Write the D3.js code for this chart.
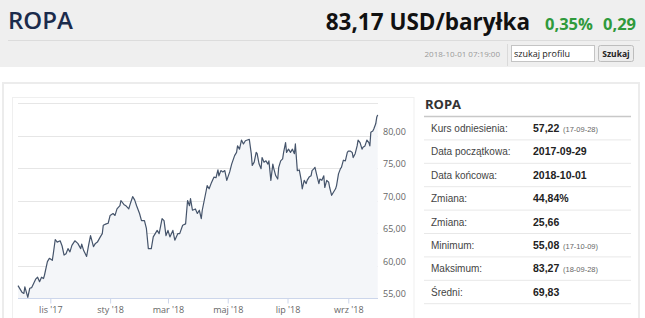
<!DOCTYPE html>
<html lang="pl">
<head>
  <meta charset="utf-8">
  <title>ROPA</title>
  <script src="https://cdn.jsdelivr.net/npm/d3@7/dist/d3.min.js"></script>
  <style>
    html, body { margin: 0; padding: 0; background: #fff; }
    svg text { font-family: "Open Sans", sans-serif; }
    .tab text { font-family: "Liberation Sans", Arial, sans-serif; }
  </style>
</head>
<body>
<svg id="chart" width="645" height="318"></svg>
<script>
"use strict"
// dane
var daty = ["2017-09-29","2017-10-03","2017-10-05","2017-10-06","2017-10-09","2017-10-11","2017-10-13","2017-10-17","2017-10-19","2017-10-21",
  "2017-10-23","2017-10-25","2017-10-26","2017-10-29","2017-10-31","2017-11-03","2017-11-04","2017-11-06","2017-11-08","2017-11-11",
  "2017-11-13","2017-11-15","2017-11-17","2017-11-19","2017-11-21","2017-11-23","2017-11-26","2017-11-29","2017-12-02","2017-12-03",
  "2017-12-05","2017-12-08","2017-12-10","2017-12-12","2017-12-15","2017-12-17","2017-12-19","2017-12-22","2017-12-24","2017-12-25",
  "2017-12-28","2017-12-30","2018-01-01","2018-01-04","2018-01-06","2018-01-08","2018-01-11","2018-01-12","2018-01-15","2018-01-17",
  "2018-01-20","2018-01-22","2018-01-24","2018-01-26","2018-01-28","2018-01-31","2018-02-02","2018-02-05","2018-02-07","2018-02-09",
  "2018-02-12","2018-02-14","2018-02-16","2018-02-18","2018-02-20","2018-02-23","2018-02-25","2018-02-27","2018-03-01","2018-03-03",
  "2018-03-06","2018-03-08","2018-03-11","2018-03-13","2018-03-16","2018-03-19","2018-03-21","2018-03-23","2018-03-24","2018-03-26",
  "2018-03-29","2018-03-31","2018-04-02","2018-04-04","2018-04-05","2018-04-07","2018-04-09","2018-04-10","2018-04-12","2018-04-14",
  "2018-04-17","2018-04-19","2018-04-21","2018-04-22","2018-04-24","2018-04-26","2018-04-28","2018-04-30","2018-05-03","2018-05-05",
  "2018-05-08","2018-05-10","2018-05-11","2018-05-13","2018-05-15","2018-05-17","2018-05-19","2018-05-21","2018-05-23","2018-05-25",
  "2018-05-26","2018-05-28","2018-05-30","2018-05-31","2018-06-02","2018-06-04","2018-06-05","2018-06-07","2018-06-09","2018-06-11",
  "2018-06-12","2018-06-14","2018-06-16","2018-06-17","2018-06-19","2018-06-21","2018-06-22","2018-06-24","2018-06-26","2018-06-27",
  "2018-06-29","2018-06-30","2018-07-02","2018-07-04","2018-07-06","2018-07-08","2018-07-09","2018-07-11","2018-07-13","2018-07-15",
  "2018-07-16","2018-07-18","2018-07-20","2018-07-21","2018-07-23","2018-07-25","2018-07-26","2018-07-28","2018-07-29","2018-07-31",
  "2018-08-02","2018-08-03","2018-08-05","2018-08-07","2018-08-08","2018-08-10","2018-08-12","2018-08-13","2018-08-15","2018-08-17",
  "2018-08-19","2018-08-20","2018-08-22","2018-08-24","2018-08-25","2018-08-27","2018-08-29","2018-08-31","2018-09-01","2018-09-03",
  "2018-09-05","2018-09-06","2018-09-08","2018-09-10","2018-09-11","2018-09-13","2018-09-15","2018-09-16","2018-09-18","2018-09-20",
  "2018-09-22","2018-09-23","2018-09-24","2018-09-26","2018-09-27","2018-09-29","2018-09-30","2018-10-01"];
var kursy = [56.9,55.9,55.7,56.7,55.1,56.5,56.6,57.9,58.2,57.5,
  58.2,58.0,58.5,60.6,61.1,60.8,61.8,64.0,63.6,63.8,
  63.0,61.6,61.8,62.6,62.1,63.1,63.8,63.4,62.6,63.3,
  62.3,61.4,63.1,64.6,62.9,63.4,63.6,64.4,64.9,66.2,
  66.4,66.5,67.7,68.0,67.7,68.7,69.2,70.0,69.4,69.2,
  68.7,69.7,70.6,70.1,69.2,68.0,66.9,66.9,65.7,62.6,
  62.6,64.4,64.9,65.4,64.9,67.2,66.9,64.6,65.4,64.4,
  65.4,63.9,64.9,64.9,66.2,66.4,70.0,69.2,70.3,68.5,
  68.7,68.0,68.5,67.2,68.5,70.0,71.5,72.3,71.8,72.6,
  73.6,73.5,74.7,73.8,74.6,74.4,74.6,73.1,74.4,75.6,
  76.9,77.4,78.4,77.9,79.3,78.7,79.2,79.3,79.4,77.2,
  75.4,75.9,77.4,77.2,75.6,74.9,76.6,75.9,76.1,75.6,
  76.1,73.1,75.6,74.9,73.8,73.3,75.1,76.1,76.4,77.4,
  78.9,77.4,77.9,77.4,77.9,77.2,78.7,74.6,74.7,73.1,
  71.8,73.1,72.6,73.1,73.6,73.8,74.6,74.9,75.1,73.8,
  72.6,73.3,73.1,73.8,72.0,73.1,72.8,72.0,70.8,71.3,
  71.8,72.3,74.1,74.9,75.1,76.2,76.1,77.4,77.6,77.6,
  77.4,76.6,77.2,78.4,79.3,78.9,77.9,78.2,78.4,79.3,
  78.9,78.4,80.5,80.7,81.0,81.8,82.8,83.17];
var tickDaty = ["2017-11-01","2018-01-01","2018-03-01","2018-05-01","2018-07-01","2018-09-01"];
var tickEtykiety = ["lis '17","sty '18","mar '18","maj '18","lip '18","wrz '18"];
var yTicki = [55, 60, 65, 70, 75, 80];
var ySiatka = [55, 60, 65, 70, 75, 80, 85];
// tabela po prawej
var etykiety = ["Kurs odniesienia:","Data początkowa:","Data końcowa:","Zmiana:","Zmiana:","Minimum:","Maksimum:","Średni:"];
var wartosci = ["57,22","2017-09-29","2018-10-01","44,84%","25,66","55,08","83,27","69,83"];
var uwagi = ["(17-09-28)","","","","","(17-10-09)","(18-09-28)",""];

var parse = d3.utcParse("%Y-%m-%d");
var dane = daty.map((d, i) => ({data: parse(d), kurs: kursy[i]}));
var svg = d3.select("#chart");

// --- naglowek ---
svg.append("rect").attr("x", 0).attr("y", 0).attr("width", 645).attr("height", 67).attr("fill", "#efefef");
svg.append("text").attr("x", 8).attr("y", 29).attr("font-size", 24).attr("font-weight", 600)
  .attr("fill", "#1b2b4b").text("ROPA");
var cena = svg.append("text").attr("x", 530).attr("y", 30).attr("text-anchor", "end").attr("font-size", 25)
  .attr("font-weight", 700).attr("fill", "#111").attr("font-family", "DejaVu Sans Condensed, Open Sans, sans-serif")
  .text("83,17 USD/baryłka");
// dopasuj rozmiar, zeby nie najezdzal na zmiane
var fs = 25;
while (cena.node().getComputedTextLength() > 206 && fs > 16) { fs -= 0.5; cena.attr("font-size", fs); }
svg.append("text").attr("x", 545).attr("y", 30).attr("font-size", 16.5).attr("font-weight", 700)
  .attr("fill", "#2f9a3c").text("0,35%");
svg.append("text").attr("x", 603).attr("y", 30).attr("font-size", 16.5).attr("font-weight", 700)
  .attr("fill", "#2f9a3c").text("0,29");
svg.append("line").attr("x1", 8).attr("x2", 640).attr("y1", 40.5).attr("y2", 40.5).attr("stroke", "#dcdcdc");
svg.append("text").attr("x", 500).attr("y", 57).attr("text-anchor", "end").attr("font-size", 8)
  .attr("font-family", "Liberation Sans, Arial").attr("fill", "#999").text("2018-10-01 07:19:00");
svg.append("line").attr("x1", 507.5).attr("x2", 507.5).attr("y1", 44).attr("y2", 66).attr("stroke", "#dadada");
svg.append("rect").attr("x", 511.5).attr("y", 45.5).attr("width", 83).attr("height", 16)
  .attr("fill", "#fff").attr("stroke", "#c4c4c4");
svg.append("text").attr("x", 514).attr("y", 57).attr("font-size", 9).attr("font-family", "Liberation Sans, Arial")
  .attr("fill", "#222").text("szukaj profilu");
svg.append("rect").attr("x", 598.5).attr("y", 45.5).attr("width", 35).attr("height", 16).attr("rx", 2)
  .attr("fill", "#ececec").attr("stroke", "#bdbdbd");
svg.append("text").attr("x", 616).attr("y", 57).attr("text-anchor", "middle").attr("font-size", 8.5)
  .attr("font-weight", 700).attr("font-family", "Liberation Sans, Arial").attr("fill", "#222").text("Szukaj");

// --- ramki ---
svg.append("rect").attr("x", 3).attr("y", 83).attr("width", 636).attr("height", 260)
  .attr("fill", "none").attr("stroke", "#ececec").attr("stroke-width", 2);
svg.append("rect").attr("x", 12.5).attr("y", 97.5).attr("width", 401.5).attr("height", 250)
  .attr("fill", "none").attr("stroke", "#efefef");

// --- wykres ---
var x = d3.scaleUtc().domain([parse("2017-09-29"), parse("2018-10-01")]).range([18, 377.7]);
var y = d3.scaleLinear().domain([55, 85]).range([298, 103]);

svg.append("g").selectAll("line").data(ySiatka).enter().append("line")
  .attr("x1", 18).attr("x2", 378).attr("y1", d => Math.round(y(d)) + 0.5).attr("y2", d => Math.round(y(d)) + 0.5)
  .attr("stroke", "#e6e6e6");

var area = d3.area().x(d => x(d.data)).y0(y(55)).y1(d => y(d.kurs));
var line = d3.line().x(d => x(d.data)).y(d => y(d.kurs));
svg.append("path").datum(dane).attr("d", area).attr("fill", "#f4f6f9");
svg.append("path").datum(dane).attr("d", line).attr("fill", "none")
  .attr("stroke", "#45546b").attr("stroke-width", 1.2).attr("stroke-linejoin", "round");

var osX = svg.append("g").attr("transform", "translate(0," + (Math.round(y(55)) + 0.5) + ")")
  .call(d3.axisBottom(x).tickValues(tickDaty.map(parse)).tickFormat((d, i) => tickEtykiety[i])
    .tickSizeInner(5).tickSizeOuter(0).tickPadding(3));
osX.select(".domain").attr("stroke", "#ccd6eb").attr("d", "M18,0H378");
osX.selectAll(".tick line").attr("stroke", "#ccd6eb");
osX.selectAll(".tick text").attr("fill", "#666").attr("font-size", 9).attr("font-family", "Open Sans, sans-serif");

svg.append("g").selectAll("text").data(yTicki).enter().append("text")
  .attr("x", 383).attr("y", d => y(d) - 1).attr("font-size", 9).attr("fill", "#666")
  .text(d => d3.format(".2f")(d).replace(".", ","));

// --- tabela ---
svg.append("text").attr("x", 425).attr("y", 109).attr("font-size", 13).attr("font-weight", 700)
  .attr("fill", "#333").text("ROPA");
svg.append("line").attr("x1", 424).attr("x2", 631).attr("y1", 116.5).attr("y2", 116.5)
  .attr("stroke", "#c8c8c8").attr("stroke-width", 1.5);
var wys = 23.4;
var tab = svg.append("g").attr("class", "tab");
var wiersze = tab.selectAll("g").data(etykiety).enter().append("g")
  .attr("transform", (d, i) => "translate(0," + (116 + i * wys) + ")");
wiersze.append("line").attr("x1", 424).attr("x2", 631).attr("y1", wys + 0.5).attr("y2", wys + 0.5)
  .attr("stroke", "#e8e8e8");
wiersze.append("text").attr("x", 431).attr("y", 16).attr("font-size", 10).attr("fill", "#444").text(d => d);
wiersze.append("text").attr("x", 533).attr("y", 16).attr("font-size", 10.5).attr("font-weight", 700)
  .attr("fill", "#222").text((d, i) => wartosci[i]);
wiersze.append("text").attr("x", 563).attr("y", 16).attr("font-size", 7.5).attr("fill", "#666")
  .text((d, i) => uwagi[i]);
</script>
</body>
</html>
